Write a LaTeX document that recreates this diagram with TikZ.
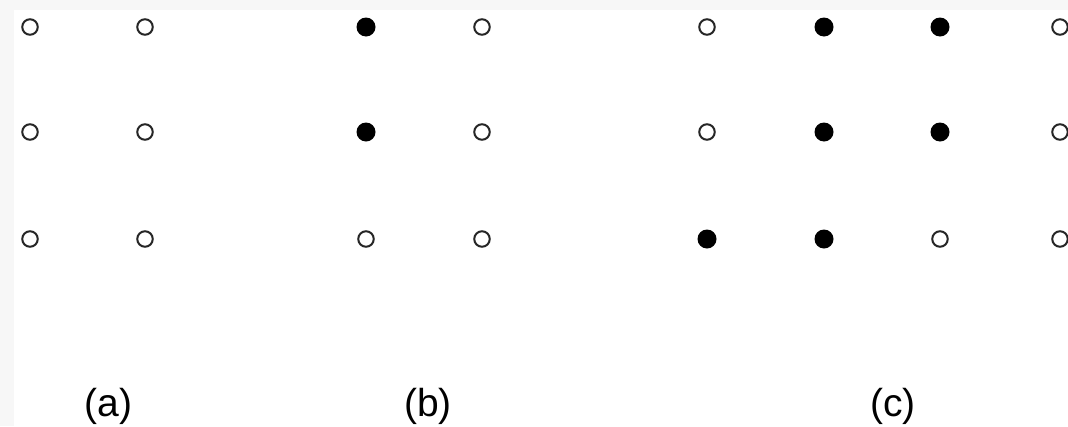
\documentclass[tikz,border=0pt]{standalone}
\usepackage{fontspec}
\setmainfont{Liberation Sans}
\begin{document}
\begin{tikzpicture}[x=1pt,y=-1pt,
  opendot/.style={circle,draw=black!85,line width=2pt,fill=white,minimum size=15.5pt,inner sep=0pt},
  fulldot/.style={circle,fill=black,minimum size=19pt,inner sep=0pt},
  lab/.style={font=\fontsize{39}{44}\selectfont,inner sep=0pt}]
\clip (0,0) rectangle (1068,426);
\fill[white] (0,0) rectangle (1068,426);
\fill[black!3] (0,0) rectangle (1068,10);
\fill[black!3] (0,0) rectangle (14,426);
% (a)
\node[opendot] (a11) at (30,27) {};
\node[opendot] (a12) at (145,27) {};
\node[opendot] (a21) at (30,132) {};
\node[opendot] (a22) at (145,132) {};
\node[opendot] (a31) at (30,239) {};
\node[opendot] (a32) at (145,239) {};
% (b)
\node[fulldot] (b11) at (366,27) {};
\node[opendot] (b12) at (482,27) {};
\node[fulldot] (b21) at (366,132) {};
\node[opendot] (b22) at (482,132) {};
\node[opendot] (b31) at (366,239) {};
\node[opendot] (b32) at (482,239) {};
% (c)
\node[opendot] (c11) at (707,27) {};
\node[fulldot] (c12) at (824,27) {};
\node[fulldot] (c13) at (940,27) {};
\node[opendot] (c14) at (1060,27) {};
\node[opendot] (c21) at (707,132) {};
\node[fulldot] (c22) at (824,132) {};
\node[fulldot] (c23) at (940,132) {};
\node[opendot] (c24) at (1060,132) {};
\node[fulldot] (c31) at (707,239) {};
\node[fulldot] (c32) at (824,239) {};
\node[opendot] (c33) at (940,239) {};
\node[opendot] (c34) at (1060,239) {};
% labels
\node[lab] (la) at (108.5,406) {(a)};
\node[lab] (lb) at (428,406) {(b)};
\node[lab] (lc) at (893,406) {(c)};
\end{tikzpicture}
\end{document}
